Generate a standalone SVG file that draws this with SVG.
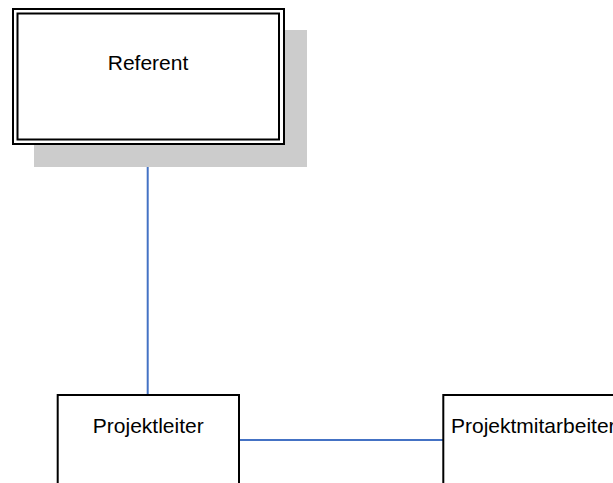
<svg xmlns="http://www.w3.org/2000/svg" width="613" height="483" viewBox="0 0 613 483">
  <style>
    .box { fill: #ffffff; stroke: #000000; stroke-width: 2; }
    .shadow { fill: #cccccc; }
    .label { font-family: "Liberation Sans", Arial, sans-serif; font-size: 21px; fill: #000000; }
    .link { stroke: #4472c4; stroke-width: 2; fill: none; }
  </style>
  <rect width="613" height="483" fill="#ffffff"/>

  <g id="connectors">
    <line class="link" x1="147.7" y1="145" x2="147.7" y2="395"/>
    <line class="link" x1="239" y1="440" x2="443" y2="440"/>
  </g>

  <g id="referent">
    <rect class="shadow" x="34" y="30" width="273" height="137"/>
    <rect class="box" x="13" y="9" width="271" height="135"/>
    <rect class="box" x="17.5" y="13.5" width="261.5" height="126"/>
    <text class="label" x="148" y="70" text-anchor="middle">Referent</text>
  </g>

  <g id="projektleiter">
    <rect class="box" x="57.7" y="395" width="181.3" height="100"/>
    <text class="label" x="148.3" y="433" text-anchor="middle">Projektleiter</text>
  </g>

  <g id="projektmitarbeiter">
    <rect class="box" x="443.3" y="395" width="200" height="100"/>
    <text class="label" x="451" y="433">Projektmitarbeiter</text>
  </g>
</svg>
